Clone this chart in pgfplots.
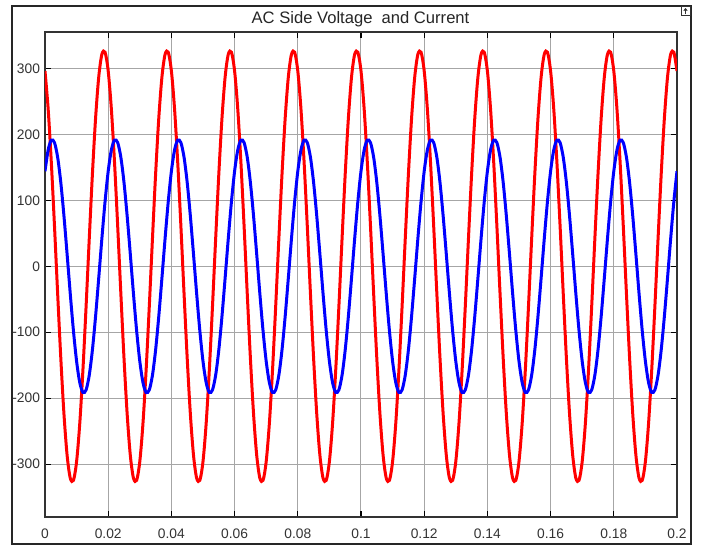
\documentclass[border=0pt]{standalone}
\usepackage{fontspec}
\setmainfont{Liberation Sans}
\usepackage{pgfplots}
\usepackage{pgfplotstable}
\usetikzlibrary{arrows.meta}
\pgfplotsset{compat=1.18}

% t, voltage (red), current (blue)
\pgfplotstableread{
t red blue
0.000 295.9 144.0
0.001 238.4 176.2
0.002 157.5 191.2
0.003 61.3 187.4
0.004 -41.0 165.3
0.005 -139.2 127.0
0.006 -223.8 76.2
0.007 -286.6 18.1
0.008 -321.2 -41.9
0.009 -324.4 -97.7
0.010 -295.9 -144.0
0.011 -238.4 -176.2
0.012 -157.5 -191.2
0.013 -61.3 -187.4
0.014 41.0 -165.3
0.015 139.2 -127.0
0.016 223.8 -76.2
0.017 286.6 -18.1
0.018 321.2 41.9
0.019 324.4 97.7
0.020 295.9 144.0
0.021 238.4 176.2
0.022 157.5 191.2
0.023 61.3 187.4
0.024 -41.0 165.3
0.025 -139.2 127.0
0.026 -223.8 76.2
0.027 -286.6 18.1
0.028 -321.2 -41.9
0.029 -324.4 -97.7
0.030 -295.9 -144.0
0.031 -238.4 -176.2
0.032 -157.5 -191.2
0.033 -61.3 -187.4
0.034 41.0 -165.3
0.035 139.2 -127.0
0.036 223.8 -76.2
0.037 286.6 -18.1
0.038 321.2 41.9
0.039 324.4 97.7
0.040 295.9 144.0
0.041 238.4 176.2
0.042 157.5 191.2
0.043 61.3 187.4
0.044 -41.0 165.3
0.045 -139.2 127.0
0.046 -223.8 76.2
0.047 -286.6 18.1
0.048 -321.2 -41.9
0.049 -324.4 -97.7
0.050 -295.9 -144.0
0.051 -238.4 -176.2
0.052 -157.5 -191.2
0.053 -61.3 -187.4
0.054 41.0 -165.3
0.055 139.2 -127.0
0.056 223.8 -76.2
0.057 286.6 -18.1
0.058 321.2 41.9
0.059 324.4 97.7
0.060 295.9 144.0
0.061 238.4 176.2
0.062 157.5 191.2
0.063 61.3 187.4
0.064 -41.0 165.3
0.065 -139.2 127.0
0.066 -223.8 76.2
0.067 -286.6 18.1
0.068 -321.2 -41.9
0.069 -324.4 -97.7
0.070 -295.9 -144.0
0.071 -238.4 -176.2
0.072 -157.5 -191.2
0.073 -61.3 -187.4
0.074 41.0 -165.3
0.075 139.2 -127.0
0.076 223.8 -76.2
0.077 286.6 -18.1
0.078 321.2 41.9
0.079 324.4 97.7
0.080 295.9 144.0
0.081 238.4 176.2
0.082 157.5 191.2
0.083 61.3 187.4
0.084 -41.0 165.3
0.085 -139.2 127.0
0.086 -223.8 76.2
0.087 -286.6 18.1
0.088 -321.2 -41.9
0.089 -324.4 -97.7
0.090 -295.9 -144.0
0.091 -238.4 -176.2
0.092 -157.5 -191.2
0.093 -61.3 -187.4
0.094 41.0 -165.3
0.095 139.2 -127.0
0.096 223.8 -76.2
0.097 286.6 -18.1
0.098 321.2 41.9
0.099 324.4 97.7
0.100 295.9 144.0
0.101 238.4 176.2
0.102 157.5 191.2
0.103 61.3 187.4
0.104 -41.0 165.3
0.105 -139.2 127.0
0.106 -223.8 76.2
0.107 -286.6 18.1
0.108 -321.2 -41.9
0.109 -324.4 -97.7
0.110 -295.9 -144.0
0.111 -238.4 -176.2
0.112 -157.5 -191.2
0.113 -61.3 -187.4
0.114 41.0 -165.3
0.115 139.2 -127.0
0.116 223.8 -76.2
0.117 286.6 -18.1
0.118 321.2 41.9
0.119 324.4 97.7
0.120 295.9 144.0
0.121 238.4 176.2
0.122 157.5 191.2
0.123 61.3 187.4
0.124 -41.0 165.3
0.125 -139.2 127.0
0.126 -223.8 76.2
0.127 -286.6 18.1
0.128 -321.2 -41.9
0.129 -324.4 -97.7
0.130 -295.9 -144.0
0.131 -238.4 -176.2
0.132 -157.5 -191.2
0.133 -61.3 -187.4
0.134 41.0 -165.3
0.135 139.2 -127.0
0.136 223.8 -76.2
0.137 286.6 -18.1
0.138 321.2 41.9
0.139 324.4 97.7
0.140 295.9 144.0
0.141 238.4 176.2
0.142 157.5 191.2
0.143 61.3 187.4
0.144 -41.0 165.3
0.145 -139.2 127.0
0.146 -223.8 76.2
0.147 -286.6 18.1
0.148 -321.2 -41.9
0.149 -324.4 -97.7
0.150 -295.9 -144.0
0.151 -238.4 -176.2
0.152 -157.5 -191.2
0.153 -61.3 -187.4
0.154 41.0 -165.3
0.155 139.2 -127.0
0.156 223.8 -76.2
0.157 286.6 -18.1
0.158 321.2 41.9
0.159 324.4 97.7
0.160 295.9 144.0
0.161 238.4 176.2
0.162 157.5 191.2
0.163 61.3 187.4
0.164 -41.0 165.3
0.165 -139.2 127.0
0.166 -223.8 76.2
0.167 -286.6 18.1
0.168 -321.2 -41.9
0.169 -324.4 -97.7
0.170 -295.9 -144.0
0.171 -238.4 -176.2
0.172 -157.5 -191.2
0.173 -61.3 -187.4
0.174 41.0 -165.3
0.175 139.2 -127.0
0.176 223.8 -76.2
0.177 286.6 -18.1
0.178 321.2 41.9
0.179 324.4 97.7
0.180 295.9 144.0
0.181 238.4 176.2
0.182 157.5 191.2
0.183 61.3 187.4
0.184 -41.0 165.3
0.185 -139.2 127.0
0.186 -223.8 76.2
0.187 -286.6 18.1
0.188 -321.2 -41.9
0.189 -324.4 -97.7
0.190 -295.9 -144.0
0.191 -238.4 -176.2
0.192 -157.5 -191.2
0.193 -61.3 -187.4
0.194 41.0 -165.3
0.195 139.2 -127.0
0.196 223.8 -76.2
0.197 286.6 -18.1
0.198 321.2 41.9
0.199 324.4 97.7
0.200 295.9 144.0
}\acdata

\begin{document}
\begin{tikzpicture}
\path[use as bounding box] (-22.5pt,-15pt) rectangle (328.5pt,258.5pt);
\fill[white] (-22.5pt,-15pt) rectangle (328.5pt,258.5pt);
% figure window frame
\draw[line width=1.1pt, black!85] (-16.5pt,-13.5pt) rectangle (323pt,255.5pt);
\draw[line width=0.5pt, black!80] (318pt,250.5pt) rectangle (322.5pt,255pt);
\draw[line width=0.5pt, black!80, -{Latex[length=1.3pt,width=2.4pt]}] (320.25pt,251.3pt) -- (320.25pt,254.5pt);
\begin{axis}[
    scale only axis,
    width=316pt, height=242.5pt,
    xmin=0, xmax=0.2, ymin=-380, ymax=355,
    xtick={0,0.02,0.04,0.06,0.08,0.1,0.12,0.14,0.16,0.18,0.2},
    xticklabels={0,0.02,0.04,0.06,0.08,0.1,0.12,0.14,0.16,0.18,0.2},
    ytick={-300,-200,-100,0,100,200,300},
    yticklabels={-300,-200,-100,0,100,200,300},
    grid=major,
    major grid style={black!35, line width=0.5pt},
    tick align=inside,
    major tick length=3pt,
    tick style={black, line width=0.6pt},
    axis line style={black!80, line width=0.7pt},
    tick label style={font=\fontsize{6.9}{8}\selectfont, text=black!80},
    xticklabel style={yshift=-2.5pt},
    yticklabel style={xshift=1pt},
]
\addplot[red, line width=1.5pt, smooth] table[x=t, y=red] {\acdata};
\addplot[blue, line width=1.5pt, smooth] table[x=t, y=blue] {\acdata};
\end{axis}
\node[anchor=base, font=\fontsize{8.3}{10}\selectfont, text=black!85] at (157.75pt,246.5pt) {AC Side Voltage\ \ and Current};
\end{tikzpicture}
\end{document}
